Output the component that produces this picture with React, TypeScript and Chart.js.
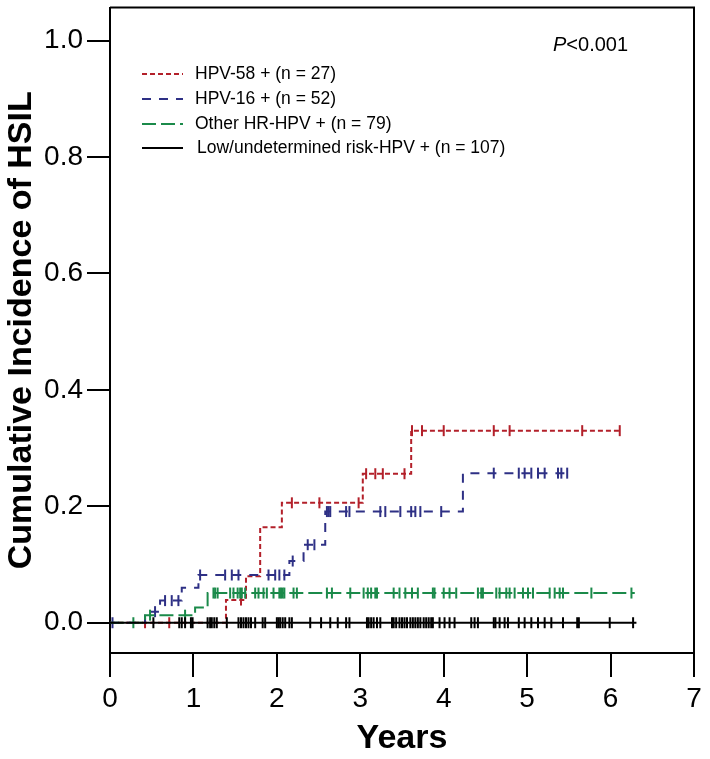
import React, { useEffect, useRef } from "react";
import { Chart, registerables } from "chart.js";

Chart.register(...registerables);

const FONT = "'Liberation Sans', Arial, sans-serif";

const xTicks = [0, 1, 2, 3, 4, 5, 6, 7];
const yTicks = [0, 0.2, 0.4, 0.6, 0.8, 1.0];
const xTitle = "Years";
const yTitle = "Cumulative Incidence of HSIL";
const pValueLabel = "<0.001";

const seriesLabels = [
  "HPV-58 + (n = 27)",
  "HPV-16 + (n = 52)",
  "Other HR-HPV + (n = 79)",
  "Low/undetermined risk-HPV + (n = 107)",
];
const seriesColors = ["#b3202a", "#2e3085", "#1b8a4a", "#000000"];
const seriesDash = [[5, 3], [9, 8], [14, 5], []];

// HPV-58 +
const hpv58EventTimes = [1.39, 1.63, 1.8, 2.06, 3.03, 3.61];
const hpv58EventValues = [0.039, 0.08, 0.164, 0.206, 0.256, 0.33];
const hpv58CensorTimes = [0.42, 0.71, 1.57, 2.18, 2.51, 2.98, 3.07, 3.18, 3.27, 3.53, 3.62, 3.74, 4.0, 4.6, 4.79, 5.66, 6.11];
const hpv58EndTime = 6.11;

// HPV-16 +
const hpv16EventTimes = [0.42, 0.6, 0.86, 1.06, 2.15, 2.32, 2.58, 4.23];
const hpv16EventValues = [0.019, 0.038, 0.06, 0.082, 0.106, 0.134, 0.191, 0.257];
const hpv16CensorTimes = [0.03, 0.54, 0.66, 0.74, 0.82, 1.08, 1.38, 1.46, 1.54, 1.9, 1.98, 2.03, 2.09, 2.19, 2.37, 2.45, 2.6, 2.62, 2.64, 2.83, 2.87, 3.24, 3.3, 3.48, 3.61, 3.66, 3.72, 3.97, 4.6, 4.9, 4.97, 5.05, 5.13, 5.21, 5.37, 5.41, 5.48];
const hpv16EndTime = 5.49;

// Other HR-HPV +
const otherHrEventTimes = [0.42, 1.02, 1.17];
const otherHrEventValues = [0.013, 0.026, 0.051];
const otherHrCensorTimes = [0.28, 0.48, 0.9, 1.24, 1.26, 1.29, 1.44, 1.48, 1.53, 1.56, 1.58, 1.62, 1.74, 1.78, 1.84, 1.88, 1.96, 2.03, 2.05, 2.07, 2.09, 2.2, 2.24, 2.6, 2.66, 2.88, 3.04, 3.09, 3.13, 3.18, 3.2, 3.4, 3.47, 3.54, 3.62, 3.69, 3.87, 3.89, 4.0, 4.07, 4.15, 4.41, 4.45, 4.47, 4.63, 4.67, 4.75, 4.79, 4.85, 4.95, 5.01, 5.07, 5.27, 5.33, 5.39, 5.43, 5.77, 6.25];
const otherHrEndTime = 6.29;

// Low/undetermined risk-HPV +
const lowRiskEventTimes: number[] = [];
const lowRiskEventValues: number[] = [];
const lowRiskCensorTimes = [0.52, 0.83, 0.86, 0.9, 0.97, 0.99, 1.17, 1.2, 1.22, 1.25, 1.28, 1.4, 1.54, 1.57, 1.6, 1.63, 1.66, 1.69, 1.74, 1.83, 1.86, 2.0, 2.02, 2.04, 2.07, 2.1, 2.15, 2.18, 2.4, 2.53, 2.64, 2.73, 2.83, 2.87, 3.08, 3.1, 3.13, 3.16, 3.2, 3.24, 3.38, 3.4, 3.43, 3.47, 3.5, 3.53, 3.56, 3.6, 3.63, 3.66, 3.69, 3.72, 3.76, 3.79, 3.82, 3.85, 3.87, 3.95, 4.01, 4.07, 4.13, 4.33, 4.37, 4.41, 4.6, 4.62, 4.67, 4.73, 4.77, 4.9, 4.97, 5.05, 5.13, 5.21, 5.29, 5.43, 5.6, 5.62, 5.99, 6.27];
const lowRiskEndTime = 6.31;

type Pt = { x: number; y: number; r: number };

function buildCurve(eventTimes: number[], eventValues: number[], censorTimes: number[], endTime: number): Pt[] {
  const valueAt = (t: number) => {
    let v = 0;
    for (let i = 0; i < eventTimes.length; i++) if (eventTimes[i] <= t) v = eventValues[i];
    return v;
  };
  const pts: Pt[] = [{ x: 0, y: 0, r: 0 }];
  eventTimes.forEach((t, i) => pts.push({ x: t, y: eventValues[i], r: 0 }));
  censorTimes.forEach((t) => pts.push({ x: t, y: valueAt(t), r: 5.5 }));
  if (!censorTimes.includes(endTime)) pts.push({ x: endTime, y: valueAt(endTime), r: 0 });
  pts.sort((a, b) => a.x - b.x || a.r - b.r);
  return pts;
}

const curves = [
  buildCurve(hpv58EventTimes, hpv58EventValues, hpv58CensorTimes, hpv58EndTime),
  buildCurve(hpv16EventTimes, hpv16EventValues, hpv16CensorTimes, hpv16EndTime),
  buildCurve(otherHrEventTimes, otherHrEventValues, otherHrCensorTimes, otherHrEndTime),
  buildCurve(lowRiskEventTimes, lowRiskEventValues, lowRiskCensorTimes, lowRiskEndTime),
];
const drawOrder = [3, 2, 1, 0];

const decorPlugin = {
  id: "decor",
  afterDraw(chart: any) {
    const { ctx, chartArea } = chart;
    ctx.save();
    // top and right frame
    ctx.strokeStyle = "#000";
    ctx.lineWidth = 2;
    ctx.beginPath();
    ctx.moveTo(chartArea.left, chartArea.top);
    ctx.lineTo(chartArea.right, chartArea.top);
    ctx.lineTo(chartArea.right, chartArea.bottom);
    ctx.stroke();

    // legend
    const rowsY = [74, 99, 124, 148];
    ctx.font = `17.5px ${FONT}`;
    ctx.textBaseline = "middle";
    ctx.textAlign = "left";
    seriesLabels.forEach((label, i) => {
      const y = rowsY[i];
      ctx.strokeStyle = seriesColors[i];
      ctx.lineWidth = 2;
      ctx.setLineDash(seriesDash[i]);
      ctx.beginPath();
      ctx.moveTo(142, y);
      ctx.lineTo(183, y);
      ctx.stroke();
      ctx.setLineDash([]);
      ctx.fillStyle = "#000";
      ctx.fillText(label, i === 3 ? 197 : 195, y);
    });

    // p-value
    ctx.font = `italic 20px ${FONT}`;
    ctx.fillStyle = "#000";
    ctx.fillText("P", 553, 45);
    const pw = ctx.measureText("P").width;
    ctx.font = `20px ${FONT}`;
    ctx.fillText(pValueLabel, 553 + pw, 45);
    ctx.restore();
  },
};

export default function App() {
  const canvasRef = useRef<HTMLCanvasElement | null>(null);

  useEffect(() => {
    if (!canvasRef.current) return;
    Chart.defaults.font.family = FONT;
    const chart = new Chart(canvasRef.current, {
      type: "line",
      data: {
        datasets: curves.map((pts, i) => ({
          label: seriesLabels[i],
          data: pts.map((p) => ({ x: p.x, y: p.y })),
          borderColor: seriesColors[i],
          backgroundColor: seriesColors[i],
          borderWidth: 2,
          borderDash: seriesDash[i],
          stepped: "before" as const,
          fill: false,
          pointStyle: "line" as const,
          rotation: 90,
          pointRadius: pts.map((p) => p.r),
          pointHoverRadius: pts.map((p) => p.r),
          pointBorderWidth: 2,
          pointBorderColor: seriesColors[i],
          order: drawOrder[i],
          clip: false as any,
        })),
      },
      options: {
        animation: false,
        responsive: true,
        maintainAspectRatio: false,
        events: [],
        layout: { padding: { top: 7, right: 16, left: 0, bottom: 0 } },
        plugins: {
          legend: { display: false },
          tooltip: { enabled: false },
        },
        scales: {
          x: {
            type: "linear",
            min: 0,
            max: 7,
            afterBuildTicks: (s: any) => {
              s.ticks = xTicks.map((v) => ({ value: v }));
            },
            afterFit: (s: any) => {
              s.height = 106;
              s.paddingLeft = 0;
              s.paddingRight = 0;
            },
            ticks: {
              font: { family: FONT, size: 28 },
              color: "#000",
              padding: 5,
              maxRotation: 0,
              autoSkip: false,
              callback: (v: any) => String(v),
            },
            grid: { drawOnChartArea: false, drawTicks: true, tickLength: 24, color: "#000", lineWidth: 2 },
            border: { display: true, color: "#000", width: 2 },
            title: {
              display: true,
              text: xTitle,
              color: "#000",
              font: { family: FONT, size: 34, weight: "bold" },
              padding: 0,
            },
          },
          y: {
            type: "linear",
            min: -0.052,
            max: 1.057,
            afterBuildTicks: (s: any) => {
              s.ticks = yTicks.map((v) => ({ value: v }));
            },
            afterFit: (s: any) => {
              s.width = 110;
              s.paddingTop = 0;
              s.paddingBottom = 0;
            },
            ticks: {
              font: { family: FONT, size: 28 },
              color: "#000",
              padding: 4,
              autoSkip: false,
              callback: (v: any) => Number(v).toFixed(1),
            },
            grid: { drawOnChartArea: false, drawTicks: true, tickLength: 23, color: "#000", lineWidth: 2 },
            border: { display: true, color: "#000", width: 2 },
            title: {
              display: true,
              text: yTitle,
              color: "#000",
              font: { family: FONT, size: 34, weight: "bold" },
              padding: { top: 1, bottom: 0 },
            },
          },
        },
      },
      plugins: [decorPlugin],
    });
    return () => chart.destroy();
  }, []);

  return (
    <div style={{ position: "absolute", left: 0, top: 0, width: 710, height: 759, background: "#fff" }}>
      <canvas ref={canvasRef} />
    </div>
  );
}
